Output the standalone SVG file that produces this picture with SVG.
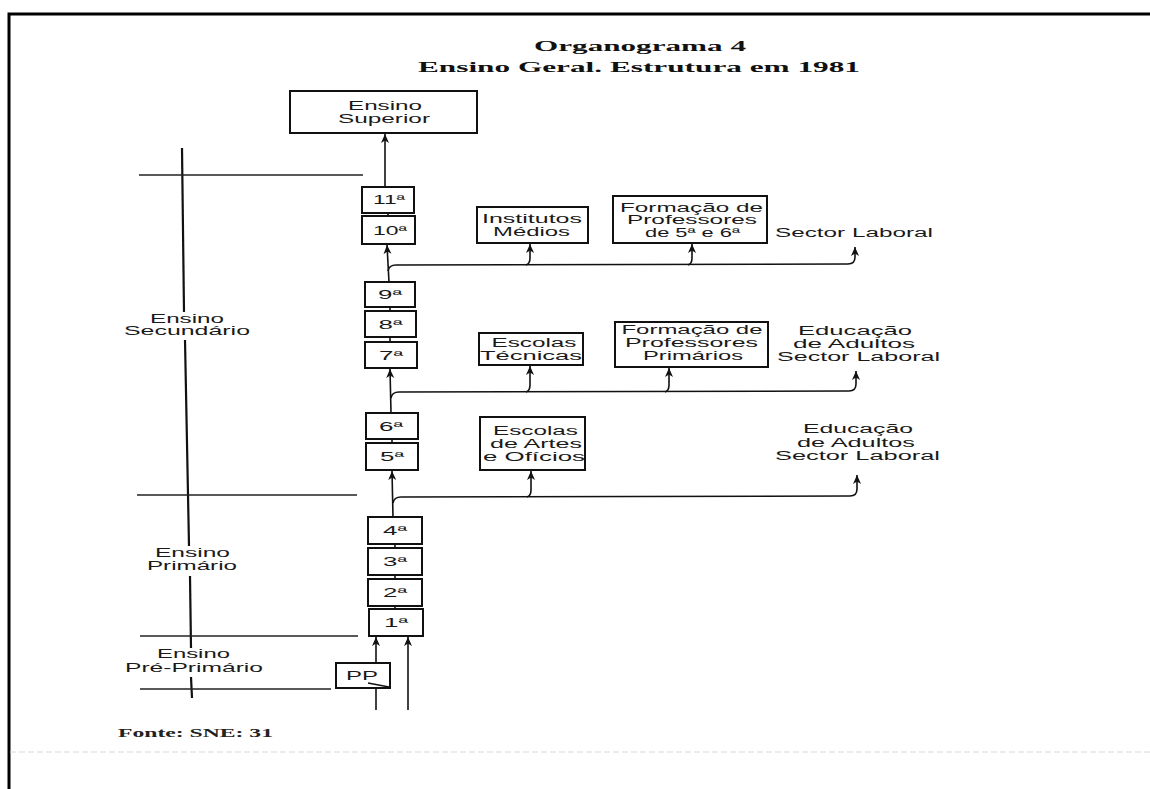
<svg xmlns="http://www.w3.org/2000/svg" width="1150" height="789" viewBox="0 0 1150 789">
<defs>
<style>
.bg{fill:#fff}
.frame{fill:none;stroke:#000;stroke-width:3}
.box{fill:#fff;stroke:#111;stroke-width:2}
.rule{fill:none;stroke:#222;stroke-width:1.6}
.vrule{fill:none;stroke:#111;stroke-width:2.2}
.con{fill:none;stroke:#111;stroke-width:1.6}
.t{font-family:"Liberation Sans",Arial,sans-serif;font-size:12.5px;fill:#1a1a1a;text-anchor:middle}
.ttl{font-family:"Liberation Serif","Times New Roman",serif;font-size:15.5px;font-weight:bold;fill:#111;text-anchor:middle}
.src{font-family:"Liberation Serif","Times New Roman",serif;font-size:13px;font-weight:bold;fill:#222}
</style>
<marker id="ah" markerUnits="userSpaceOnUse" markerWidth="10" markerHeight="10" refX="9" refY="4.5" orient="auto">
<path d="M0,0.5 L9,4.5 L0,8.5 L2.5,4.5 z" fill="#111"/>
</marker>
</defs>
<rect class="bg" x="0" y="0" width="1150" height="789"/>
<path class="frame" d="M9,789 V14 H1150"/>
<line x1="10" y1="752" x2="1150" y2="752" stroke="#d8d8d8" stroke-width="1" stroke-dasharray="6 3"/>

<g id="title">
<text class="ttl" x="640" y="51" textLength="212" lengthAdjust="spacingAndGlyphs">Organograma 4</text>
<text class="ttl" x="639" y="72" textLength="442" lengthAdjust="spacingAndGlyphs">Ensino Geral. Estrutura em 1981</text>
</g>

<g id="levels">
<path class="vrule" d="M182,148 L184,312"/>
<path class="vrule" d="M185,340 L189,546"/>
<path class="vrule" d="M190,576 L191,648"/>
<path class="vrule" d="M191,677 L192,698"/>
<path class="rule" d="M139,175 H363"/>
<path class="rule" d="M137,495 H357"/>
<path class="rule" d="M140,636 H358"/>
<path class="rule" d="M140,689 H331"/>
</g>
<g id="lbl-secundario">
<text class="t" x="187" y="323" textLength="74" lengthAdjust="spacingAndGlyphs">Ensino</text>
<text class="t" x="187" y="335" textLength="126" lengthAdjust="spacingAndGlyphs">Secundário</text>
</g>
<g id="lbl-primario">
<text class="t" x="192.5" y="557" textLength="75" lengthAdjust="spacingAndGlyphs">Ensino</text>
<text class="t" x="192" y="570" textLength="90" lengthAdjust="spacingAndGlyphs">Primário</text>
</g>
<g id="lbl-preprimario">
<text class="t" x="193.5" y="658" textLength="73" lengthAdjust="spacingAndGlyphs">Ensino</text>
<text class="t" x="194" y="672" textLength="138" lengthAdjust="spacingAndGlyphs">Pré-Primário</text>
</g>

<g id="connectors">
<line class="con" x1="385" y1="187" x2="385" y2="134" marker-end="url(#ah)"/>
<line class="con" x1="388" y1="213" x2="388" y2="216"/>
<line class="con" x1="389" y1="282" x2="387" y2="245" marker-end="url(#ah)"/>
<path class="con" d="M388,271 Q389,265 396,265 L848,264 Q855,264 855,257 L855,247" marker-end="url(#ah)"/>
<path class="con" d="M526,265 Q530,264 530,258 L530,244" marker-end="url(#ah)"/>
<path class="con" d="M688,265 Q692,264 692,258 L692,244" marker-end="url(#ah)"/>
<line class="con" x1="390" y1="307" x2="390" y2="311"/>
<line class="con" x1="390" y1="337" x2="390" y2="342"/>
<line class="con" x1="391" y1="413" x2="390" y2="369" marker-end="url(#ah)"/>
<path class="con" d="M391,398 Q392,392 399,392 L849,391 Q856,391 856,384 L856,371" marker-end="url(#ah)"/>
<path class="con" d="M526,392 Q530,391 530,385 L530,366" marker-end="url(#ah)"/>
<path class="con" d="M665,392 Q669,391 669,385 L669,368" marker-end="url(#ah)"/>
<line class="con" x1="392" y1="439" x2="392" y2="443"/>
<line class="con" x1="393" y1="517" x2="392" y2="471" marker-end="url(#ah)"/>
<path class="con" d="M393,503 Q394,497 401,497 L850,496 Q857,496 857,489 L857,475" marker-end="url(#ah)"/>
<path class="con" d="M527,497 Q531,496 531,490 L531,471" marker-end="url(#ah)"/>
<line class="con" x1="395" y1="544" x2="395" y2="548"/>
<line class="con" x1="395" y1="575" x2="395" y2="579"/>
<line class="con" x1="395" y1="606" x2="395" y2="609"/>
<line class="con" x1="376" y1="663" x2="376" y2="637" marker-end="url(#ah)"/>
<line class="con" x1="376" y1="688" x2="376" y2="710"/>
<line class="con" x1="408" y1="710" x2="408" y2="637" marker-end="url(#ah)"/>
</g>

<g id="ensino-superior">
<rect class="box" x="290" y="91" width="187" height="42"/>
<text class="t" x="385" y="110" textLength="74" lengthAdjust="spacingAndGlyphs">Ensino</text>
<text class="t" x="384" y="123" textLength="92" lengthAdjust="spacingAndGlyphs">Superior</text>
</g>
<g id="g11">
<rect class="box" x="362" y="187" width="52" height="26"/>
<text class="t" x="389" y="204" textLength="32" lengthAdjust="spacingAndGlyphs">11ª</text>
</g>
<g id="g10">
<rect class="box" x="362" y="216" width="53" height="28"/>
<text class="t" x="390" y="234.5" textLength="34" lengthAdjust="spacingAndGlyphs">10ª</text>
</g>
<g id="institutos-medios">
<rect class="box" x="477" y="207" width="111" height="36"/>
<text class="t" x="532" y="223" textLength="100" lengthAdjust="spacingAndGlyphs">Institutos</text>
<text class="t" x="531.5" y="235.5" textLength="77" lengthAdjust="spacingAndGlyphs">Médios</text>
</g>
<g id="formacao-5-6">
<rect class="box" x="613" y="196" width="154" height="47"/>
<text class="t" x="691.5" y="211.5" textLength="143" lengthAdjust="spacingAndGlyphs">Formação de</text>
<text class="t" x="692" y="224" textLength="130" lengthAdjust="spacingAndGlyphs">Professores</text>
<text class="t" x="692.5" y="236.5" textLength="95" lengthAdjust="spacingAndGlyphs">de 5ª e 6ª</text>
</g>
<g id="sector-laboral-1">
<text class="t" x="854" y="236.5" textLength="158" lengthAdjust="spacingAndGlyphs">Sector Laboral</text>
</g>

<g id="g9">
<rect class="box" x="365" y="282" width="50" height="25"/>
<text class="t" x="390" y="299" textLength="24" lengthAdjust="spacingAndGlyphs">9ª</text>
</g>
<g id="g8">
<rect class="box" x="365" y="311" width="51" height="26"/>
<text class="t" x="390.5" y="328.5" textLength="24" lengthAdjust="spacingAndGlyphs">8ª</text>
</g>
<g id="g7">
<rect class="box" x="365" y="342" width="52" height="26"/>
<text class="t" x="391" y="359.5" textLength="24" lengthAdjust="spacingAndGlyphs">7ª</text>
</g>
<g id="escolas-tecnicas">
<rect class="box" x="479" y="333" width="104" height="32"/>
<text class="t" x="534" y="346.5" textLength="85" lengthAdjust="spacingAndGlyphs">Escolas</text>
<text class="t" x="531" y="360" textLength="102" lengthAdjust="spacingAndGlyphs">Técnicas</text>
</g>
<g id="formacao-primarios">
<rect class="box" x="615" y="322" width="153" height="45"/>
<text class="t" x="692" y="333.5" textLength="141" lengthAdjust="spacingAndGlyphs">Formação de</text>
<text class="t" x="691.5" y="346.5" textLength="133" lengthAdjust="spacingAndGlyphs">Professores</text>
<text class="t" x="693" y="359.5" textLength="100" lengthAdjust="spacingAndGlyphs">Primários</text>
</g>
<g id="educacao-adultos-1">
<text class="t" x="855" y="335" textLength="114" lengthAdjust="spacingAndGlyphs">Educação</text>
<text class="t" x="854" y="348" textLength="122" lengthAdjust="spacingAndGlyphs">de Adultos</text>
<text class="t" x="858.5" y="360.5" textLength="163" lengthAdjust="spacingAndGlyphs">Sector Laboral</text>
</g>

<g id="g6">
<rect class="box" x="366" y="413" width="52" height="26"/>
<text class="t" x="391" y="430.5" textLength="24" lengthAdjust="spacingAndGlyphs">6ª</text>
</g>
<g id="g5">
<rect class="box" x="366" y="443" width="52" height="27"/>
<text class="t" x="392" y="461" textLength="24" lengthAdjust="spacingAndGlyphs">5ª</text>
</g>
<g id="escolas-artes-oficios">
<rect class="box" x="480" y="417" width="105" height="53"/>
<text class="t" x="535.5" y="435" textLength="85" lengthAdjust="spacingAndGlyphs">Escolas</text>
<text class="t" x="536" y="448" textLength="92" lengthAdjust="spacingAndGlyphs">de Artes</text>
<text class="t" x="534" y="460.5" textLength="102" lengthAdjust="spacingAndGlyphs">e Ofícios</text>
</g>
<g id="educacao-adultos-2">
<text class="t" x="858" y="433" textLength="110" lengthAdjust="spacingAndGlyphs">Educação</text>
<text class="t" x="856" y="447" textLength="118" lengthAdjust="spacingAndGlyphs">de Adultos</text>
<text class="t" x="857.5" y="460" textLength="165" lengthAdjust="spacingAndGlyphs">Sector Laboral</text>
</g>

<g id="g4">
<rect class="box" x="368" y="517" width="54" height="27"/>
<text class="t" x="395" y="535" textLength="24" lengthAdjust="spacingAndGlyphs">4ª</text>
</g>
<g id="g3">
<rect class="box" x="368" y="548" width="54" height="27"/>
<text class="t" x="395" y="566" textLength="24" lengthAdjust="spacingAndGlyphs">3ª</text>
</g>
<g id="g2">
<rect class="box" x="368" y="579" width="54" height="27"/>
<text class="t" x="395" y="597" textLength="24" lengthAdjust="spacingAndGlyphs">2ª</text>
</g>
<g id="g1">
<rect class="box" x="369" y="609" width="54" height="27"/>
<text class="t" x="396" y="627" textLength="24" lengthAdjust="spacingAndGlyphs">1ª</text>
</g>
<g id="pp">
<rect class="box" x="336" y="663" width="54" height="25"/>
<text class="t" x="362" y="680" textLength="32" lengthAdjust="spacingAndGlyphs">PP</text>
<line x1="368" y1="683" x2="389" y2="687" stroke="#111" stroke-width="1.5"/>
</g>

<g id="fonte">
<text class="src" x="118" y="737" textLength="155" lengthAdjust="spacingAndGlyphs">Fonte: SNE: 31</text>
</g>
</svg>
